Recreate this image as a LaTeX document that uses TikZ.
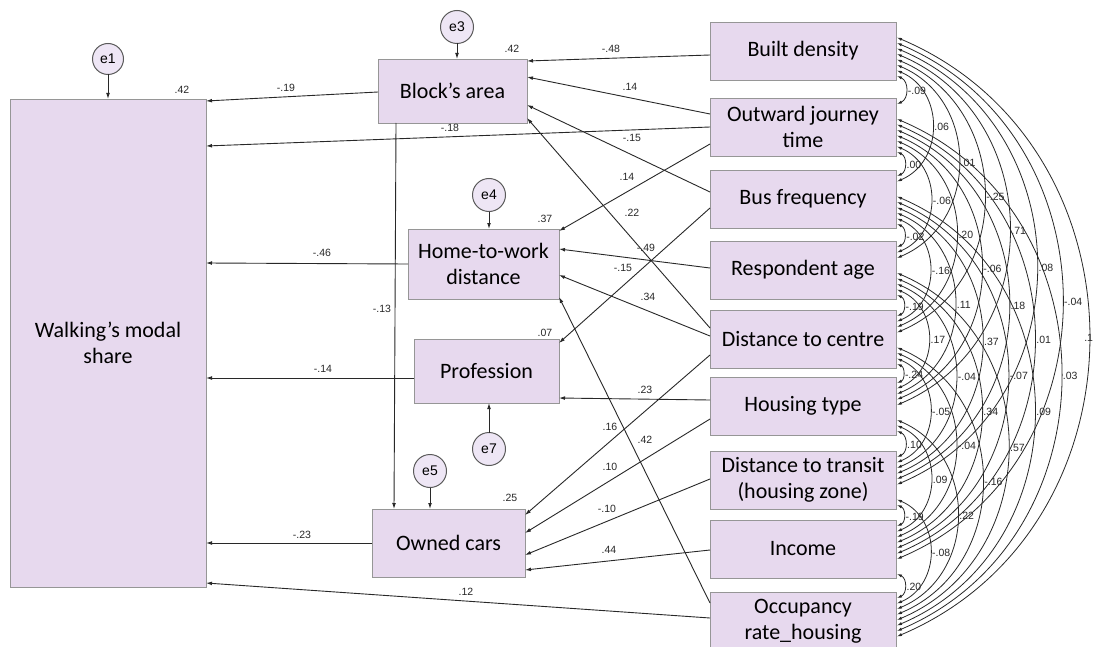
\documentclass[tikz,border=0pt]{standalone}
\usepackage{fontspec}
\setmainfont{Carlito}
\newfontfamily\numfont{Liberation Sans}
\usetikzlibrary{calc,arrows.meta}
\definecolor{boxfill}{RGB}{231,217,238}
\definecolor{boxline}{RGB}{150,150,150}
\definecolor{errfill}{RGB}{238,230,245}
\definecolor{errline}{RGB}{90,90,90}
\definecolor{ink}{RGB}{40,40,40}
\begin{document}
\begin{tikzpicture}[x=1pt,y=1pt,
  var/.style={draw=boxline, fill=boxfill, line width=0.8pt, inner sep=0pt, outer sep=0pt,
    align=center, font=\fontsize{22}{26}\selectfont},
  exo/.style={var, minimum width=186pt, minimum height=58pt},
  err/.style={circle, draw=errline, fill=errfill, line width=1pt, minimum size=33pt,
    inner sep=0pt, outer sep=0pt, font=\numfont\fontsize{14}{16}\selectfont},
  coef/.style={font=\numfont\fontsize{10.5}{12}\selectfont, text=ink, inner sep=0pt},
  reg/.style={draw=ink, line width=0.9pt, -{Latex[length=6pt,width=3.8pt]}},
  cov/.style={draw=ink, line width=0.8pt, {Latex[length=5pt,width=3.2pt]}-{Latex[length=5pt,width=3.2pt]}},
]
\fill[white] (0,0) rectangle (1094,-647);
\useasboundingbox (0,0) rectangle (1094,-647);

% endogenous variables
\node[var, minimum width=196pt, minimum height=488pt] (walk) at (108,-343) {Walking’s modal\\share};
\node[var, minimum width=149pt, minimum height=64pt] (block) at (452.5,-91) {Block’s area};
\node[var, minimum width=151pt, minimum height=70pt] (htw) at (483.5,-264) {Home-to-work\\distance};
\node[var, minimum width=145pt, minimum height=64pt] (prof) at (486.5,-371) {Profession};
\node[var, minimum width=153pt, minimum height=68pt] (cars) at (448.5,-543) {Owned cars};

% exogenous variables
\node[exo] (r1) at (803,-51) {Built density};
\node[exo] (r2) at (803,-127) {Outward journey\\time};
\node[exo] (r3) at (803,-199) {Bus frequency};
\node[exo] (r4) at (803,-270) {Respondent age};
\node[exo] (r5) at (803,-339) {Distance to centre};
\node[exo] (r6) at (803,-406) {Housing type};
\node[exo] (r7) at (803,-480) {Distance to transit\\(housing zone)};
\node[exo] (r8) at (803,-549) {Income};
\node[exo] (r9) at (803,-621) {Occupancy\\rate\_housing};

% error terms
\node[err, minimum size=31pt] (e1) at (108,-59) {e1};
\node[err] (e3) at (457,-27) {e3};
\node[err] (e4) at (489,-195) {e4};
\node[err] (e5) at (430,-471) {e5};
\node[err] (e7) at (489,-449) {e7};

\draw[reg] (e1) -- (e1 |- walk.north);
\draw[reg] (e3) -- (e3 |- block.north);
\draw[reg] (e4) -- (e4 |- htw.north);
\draw[reg] (e5) -- (e5 |- cars.north);
\draw[reg] (e7) -- (e7 |- prof.south);

% squared multiple correlations
\node[coef] (rw) at (182,-90) {.42};
\node[coef] (rb) at (512,-49) {.42};
\node[coef] (rh) at (545,-219) {.37};
\node[coef] (rp) at (545,-333) {.07};
\node[coef] (rc) at (510,-498) {.25};

% paths into walking's modal share
\draw[reg] ($(block.west)+(0,-1)$) -- ($(walk.north east)+(0,-2)$);
\draw[reg] (r2.west) -- ($(walk.north east)+(0,-47)$);
\draw[reg] (htw.west) -- ($(walk.north east)+(0,-164)$);
\draw[reg] ($(prof.west)+(0,-7)$) -- ($(walk.north east)+(0,-279)$);
\draw[reg] (cars.west) -- ($(walk.north east)+(0,-444)$);
\draw[reg] ($(r9.west)+(0,3)$) -- ($(walk.north east)+(0,-484)$);
\node[coef] (p1) at (286,-88) {-.19};
\node[coef] (p2) at (450,-128) {-.18};
\node[coef] (p3) at (322,-253) {-.46};
\node[coef] (p4) at (323,-369) {-.14};
\node[coef] (p5) at (302,-535) {-.23};
\node[coef] (p6) at (466,-592) {.12};

% paths into block's area
\draw[reg] ($(r1.west)+(0,-4)$) -- ($(block.north east)+(0,-2)$);
\draw[reg] ($(r2.west)+(0,13)$) -- ($(block.north east)+(0,-18)$);
\draw[reg] ($(r3.west)+(0,7)$) -- ($(block.north east)+(0,-46)$);
\draw[reg] ($(r5.west)+(0,11)$) -- ($(block.north east)+(0,-59)$);
\node[coef] (p7) at (611,-49) {-.48};
\node[coef] (p8) at (630,-87) {.14};
\node[coef] (p9) at (632,-138) {-.15};
\node[coef] (p10) at (632,-213) {.22};

% paths into home-to-work distance
\draw[reg] ($(r2.west)+(0,-17)$) -- ($(htw.north east)+(0,-2)$);
\draw[reg] ($(r4.west)+(0,2)$) -- ($(htw.north east)+(0,-20)$);
\draw[reg] ($(r5.west)+(0,3)$) -- ($(htw.north east)+(0,-46)$);
\draw[reg] ($(r9.west)+(0,18)$) -- ($(htw.north east)+(0,-68)$);
\node[coef] (p11) at (627,-177) {.14};
\node[coef] (p12) at (646,-248) {-.49};
\node[coef] (p13) at (648,-297) {.34};
\node[coef] (p14) at (645,-440) {.42};

% paths into profession
\draw[reg] ($(r3.west)+(0,-9)$) -- ($(prof.north east)+(0,-4)$);
\draw[reg] ($(r6.west)+(0,6)$) -- ($(prof.north east)+(0,-59)$);
\node[coef] (p15) at (623,-268) {-.15};
\node[coef] (p16) at (645,-390) {.23};

% paths into owned cars
\draw[reg] ($(r5.west)+(0,-16)$) -- ($(cars.north east)+(0,-6)$);
\draw[reg] ($(r6.west)+(0,-13)$) -- ($(cars.north east)+(0,-24)$);
\draw[reg] ($(r7.west)+(0,1)$) -- ($(cars.north east)+(0,-46)$);
\draw[reg] ($(r8.west)+(0,-1)$) -- ($(cars.north east)+(0,-61)$);
\draw[reg] ($(block.south west)+(18,0)$) -- ($(cars.north west)+(22,0)$);
\node[coef] (p17) at (610,-427) {.16};
\node[coef] (p18) at (610,-467) {.10};
\node[coef] (p19) at (607,-509) {-.10};
\node[coef] (p20) at (609,-550) {.44};
\node[coef] (p21) at (382,-309) {-.13};

% covariances among the exogenous variables (last field: label shift)
\foreach \i/\j/\val/\dx in {
  1/2/-.09/1.5, 1/3/.06/1.5, 1/4/.01/1.5, 1/5/-.25/1.5, 1/6/.71/1.5, 1/7/.08/1.5, 1/8/-.04/1.5, 1/9/.1/-5,
  2/3/.00/1.5, 2/4/-.06/1.5, 2/5/.20/1.5, 2/6/-.06/1.5, 2/7/.18/1.5, 2/8/.01/1.5, 2/9/.03/1.5,
  3/4/-.02/1.5, 3/5/-.16/1.5, 3/6/.11/1.5, 3/7/.37/1.5, 3/8/-.07/1.5, 3/9/.09/1.5,
  4/5/-.19/1.5, 4/6/.17/1.5, 4/7/-.04/1.5, 4/8/.34/1.5, 4/9/.57/1.5,
  5/6/-.24/1.5, 5/7/-.05/1.5, 5/8/-.04/1.5, 5/9/-.16/1.5,
  6/7/.10/1.5, 6/8/.09/1.5, 6/9/.22/1.5,
  7/8/-.19/1.5, 7/9/-.08/1.5,
  8/9/.20/1.5}{
  \pgfmathsetmacro\k{\j-\i-1}
  \draw[cov] ($(r\i.south east)+(1,{4+5.5*\k})$)
    to[out=-23,in=23,looseness=1.19]
    node[coef, pos=0.5, anchor=west, xshift=\dx pt, yshift=-1pt] {\val}
    ($(r\j.north east)+(1,{-6-5.5*\k})$);
}
\end{tikzpicture}
\end{document}
